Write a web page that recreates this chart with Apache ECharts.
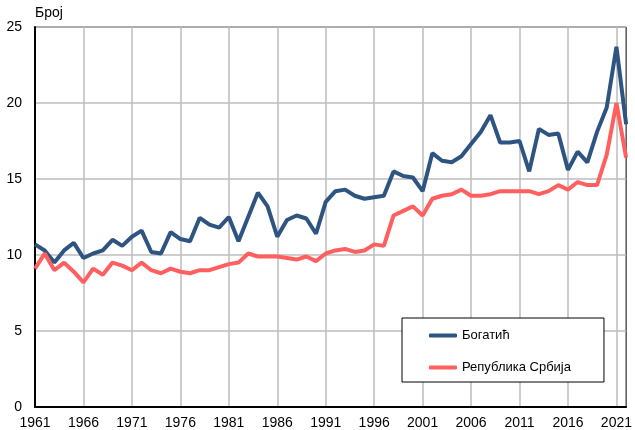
<!DOCTYPE html>
<html>
<head>
<meta charset="utf-8">
<script src="https://cdn.jsdelivr.net/npm/echarts@6/dist/echarts.min.js"></script>
<style>
  html, body { margin: 0; padding: 0; background: #fff; }
  #chart { width: 635px; height: 430px; }
</style>
</head>
<body>
<div id="chart"></div>
<script>
// years 1961..2022
const years = [];
for (let y = 1961; y <= 2022; y++) years.push(String(y));

const bogatic = [
    10.7, 10.3, 9.5, 10.3, 10.8, 9.8, 10.1, 10.3, 11.0, 10.6,
    11.2, 11.6, 10.2, 10.1, 11.5, 11.05, 10.9, 12.45, 12.0, 11.8,
    12.5, 10.9, 12.5, 14.1, 13.2, 11.2, 12.3, 12.6, 12.4, 11.4,
    13.5, 14.2, 14.3, 13.9, 13.7, 13.8, 13.9, 15.5, 15.2, 15.1,
    14.2, 16.7, 16.2, 16.1, 16.5, 17.3, 18.1, 19.2, 17.4, 17.4,
    17.5, 15.5, 18.3, 17.9, 18.0, 15.6, 16.8, 16.1, 18.1, 19.7,
    23.7, 18.6
];

const srbija = [
    9.1, 10.1, 9.0, 9.5, 8.9, 8.2, 9.1, 8.7, 9.5, 9.3,
    9.0, 9.5, 9.0, 8.8, 9.1, 8.9, 8.8, 9.0, 9.0, 9.2,
    9.4, 9.5, 10.1, 9.9, 9.9, 9.9, 9.8, 9.7, 9.9, 9.6,
    10.1, 10.3, 10.4, 10.2, 10.3, 10.7, 10.6, 12.6, 12.9, 13.2,
    12.6, 13.7, 13.9, 14.0, 14.3, 13.9, 13.9, 14.0, 14.2, 14.2,
    14.2, 14.2, 14.0, 14.2, 14.6, 14.3, 14.8, 14.6, 14.6, 16.6,
    20.0, 16.4
];

const chart = echarts.init(document.getElementById('chart'), null, { renderer: 'canvas' });

const font = 'Liberation Sans';

const option = {
    backgroundColor: '#fff',
    animation: false,
    textStyle: { fontFamily: font },
    grid: {
        left: 35,
        right: 5,
        top: 27,
        bottom: 23,
        show: true,
        borderColor: '#000',
        borderWidth: 1,
        containLabel: false
    },
    legend: {
        orient: 'vertical',
        left: 402,
        top: 318,
        padding: [11, 33, 8, 27],
        itemGap: 19,
        itemWidth: 28,
        itemHeight: 4,
        icon: 'roundRect',
        backgroundColor: '#fff',
        borderColor: '#000',
        borderWidth: 1,
        textStyle: { fontFamily: font, fontSize: 13, color: '#000' },
        data: ['Богатић', 'Република Србија']
    },
    xAxis: {
        type: 'category',
        boundaryGap: false,
        data: years,
        axisLine: { lineStyle: { color: '#000', width: 2 } },
        axisTick: { show: false },
        axisLabel: {
            interval: 4,
            color: '#000',
            fontSize: 14,
            margin: 9,
            fontFamily: font
        },
        splitLine: {
            show: true,
            interval: 4,
            lineStyle: { color: '#bdbdbd', width: 1.5 }
        }
    },
    yAxis: {
        type: 'value',
        min: 0,
        max: 25,
        interval: 5,
        name: 'Број',
        nameLocation: 'end',
        nameGap: 7,
        nameTextStyle: { align: 'left', color: '#000', fontSize: 14, fontFamily: font },
        axisLine: { show: true, lineStyle: { color: '#000', width: 2 } },
        axisTick: { show: false },
        axisLabel: { color: '#000', fontSize: 14, margin: 13, fontFamily: font },
        splitLine: { lineStyle: { color: '#bdbdbd', width: 1.5 } }
    },
    series: [
        {
            name: 'Богатић',
            type: 'line',
            data: bogatic,
            symbol: 'none',
            lineStyle: { color: '#2E5482', width: 4 },
            itemStyle: { color: '#2E5482' }
        },
        {
            name: 'Република Србија',
            type: 'line',
            data: srbija,
            symbol: 'none',
            lineStyle: { color: '#FF5F5F', width: 4 },
            itemStyle: { color: '#FF5F5F' }
        }
    ]
};

chart.setOption(option);
</script>
</body>
</html>
